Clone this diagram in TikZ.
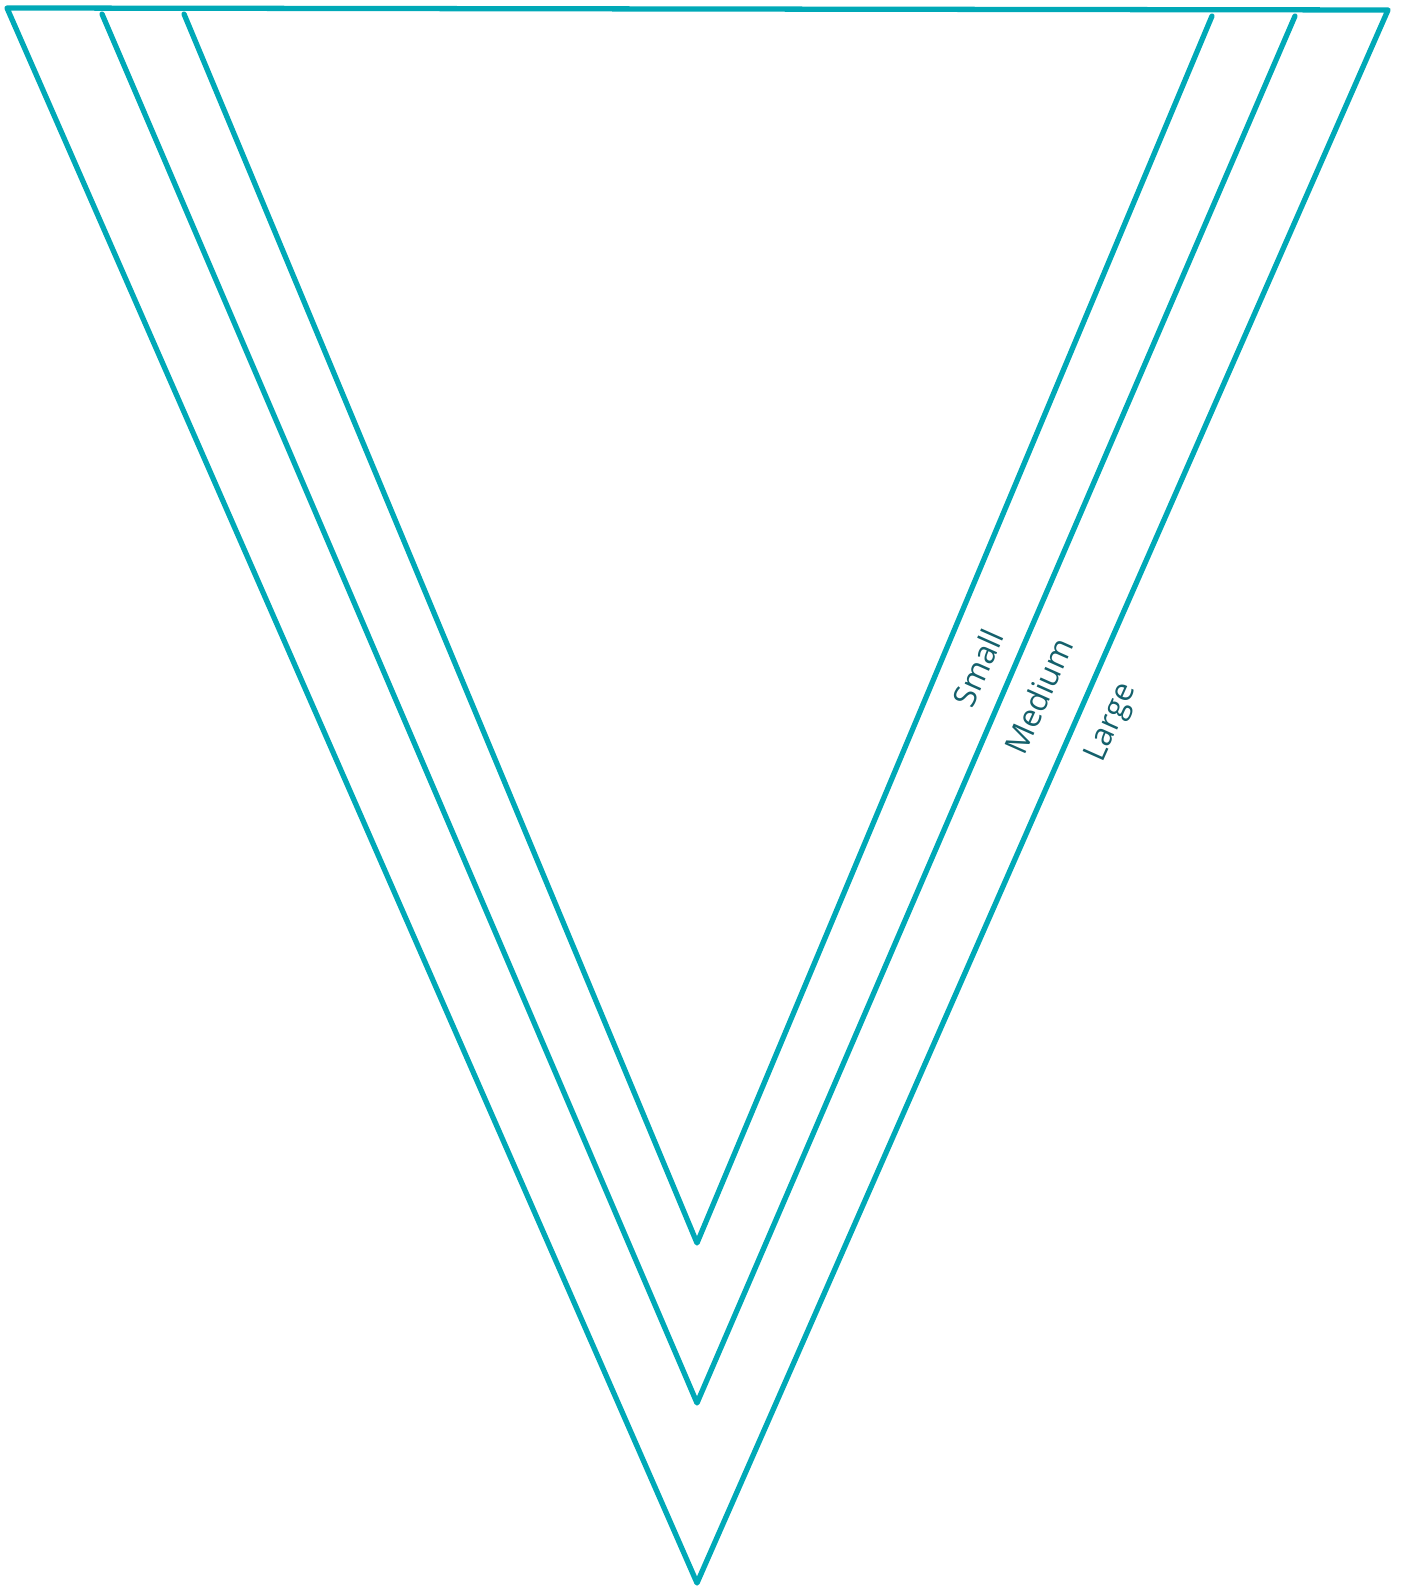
\documentclass[tikz,border=0pt]{standalone}
\usepackage{fontspec}
\setmainfont{Open Sans}
\usepackage{xcolor}
\usepackage{tikz}
\usetikzlibrary{positioning}

\definecolor{vline}{HTML}{00A9B7}
\definecolor{vtext}{HTML}{14606B}

\begin{document}
\begin{tikzpicture}[
    x=0.01cm, y=-0.01cm,
    outline/.style={draw=vline, line width=1.5pt, line join=round, line cap=round},
    sizelabel/.style={text=vtext, font=\fontsize{9}{10}\selectfont, rotate=66, inner sep=0pt}
]
\useasboundingbox (0,0) rectangle (1400,1586);

% corners of the three outlines
\coordinate (topL) at (7,8);
\coordinate (topR) at (1388,10);
\coordinate (largeB) at (697,1583);
\coordinate (medL) at (102,14);
\coordinate (medR) at (1295,16);
\coordinate (medB) at (697,1403);
\coordinate (smallL) at (184,14);
\coordinate (smallR) at (1212,16);
\coordinate (smallB) at (697,1243);

\draw[outline] (topL) -- (topR) -- (largeB) -- cycle;
\draw[outline] (medL) -- (medB) -- (medR);
\draw[outline] (smallL) -- (smallB) -- (smallR);

\node[sizelabel] (small) at (978,668) {Small};
\node[sizelabel] (medium) at (1039,696) {Medium};
\node[sizelabel] (large) at (1112,723) {Large};

\end{tikzpicture}
\end{document}
